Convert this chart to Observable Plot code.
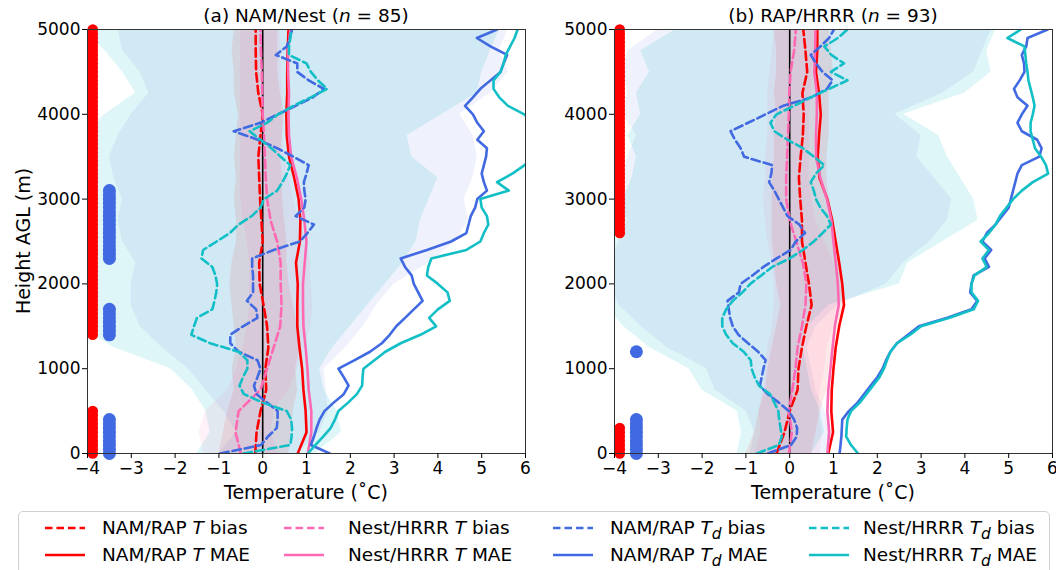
<!DOCTYPE html>
<html>
<head>
<meta charset="utf-8">
<script src="https://cdn.jsdelivr.net/npm/d3@7"></script>
<script src="https://cdn.jsdelivr.net/npm/@observablehq/plot@0.6"></script>
<style>
html,body{margin:0;padding:0;background:#fff;}
#wrap{position:relative;width:1056px;height:570px;overflow:hidden;font-family:"DejaVu Sans",sans-serif;color:#000;}
.panel{position:absolute;top:0;width:528px;height:505px;}
.title{position:absolute;top:5px;font-size:18.5px;line-height:22px;white-space:nowrap;transform:translateX(-50%);}
.xlab{position:absolute;top:481px;font-size:19px;line-height:22px;white-space:nowrap;transform:translateX(-50%);}
.ylab{position:absolute;left:23px;top:241px;font-size:19px;line-height:22px;white-space:nowrap;transform:translate(-50%,-50%) rotate(-90deg);}
#legend{position:absolute;left:18px;top:511px;width:1032px;height:70px;border:1px solid #d0d0d0;border-radius:5px;box-sizing:border-box;background:#fff;}
.li{position:absolute;font-size:18.5px;white-space:nowrap;line-height:20px;}
.ls{position:absolute;}
</style>
</head>
<body>
<div id="wrap">
  <div id="pa" class="panel" style="left:0"></div>
  <div id="pb" class="panel" style="left:528px"></div>
  <div class="title" style="left:306px">(a) NAM/Nest (<i>n</i> = 85)</div>
  <div class="title" style="left:833px">(b) RAP/HRRR (<i>n</i> = 93)</div>
  <div class="xlab" id="xla" style="left:306px"></div>
  <div class="xlab" id="xlb" style="left:833px"></div>
  <div class="ylab" id="yla"></div>
  <div id="legend"></div>
</div>
<script>
// ---------- axes / ticks ----------
const xTicks = [-4,-3,-2,-1,0,1,2,3,4,5,6];
const yTicks = [0,1000,2000,3000,4000,5000];
const xLabel = "Temperature (˚C)";
const yLabel = "Height AGL (m)";

// ---------- heights ----------
const H250 = [0,250,500,750,1000,1250,1500,1750,2000,2250,2500,2750,3000,3250,3500,3750,4000,4250,4500,4750,5000];
const H100 = [0,100,200,300,400,500,600,700,800,900,
  1000,1100,1200,1300,1400,1500,1600,1700,1800,1900,
  2000,2100,2200,2300,2400,2500,2600,2700,2800,2900,
  3000,3100,3200,3300,3400,3500,3600,3700,3800,3900,
  4000,4100,4200,4300,4400,4500,4600,4700,4800,4900,5000];

// ---------- panel (a) NAM/Nest : temperature (250 m levels) ----------
const aNamTBias  = [-0.17,-0.14,-0.05,0.08,0.06,0.13,0.10,0.02,-0.07,-0.08,0.00,-0.03,-0.06,-0.08,-0.10,-0.05,0.00,-0.10,-0.15,-0.16,-0.16];
const aNestTBias = [-0.50,-0.62,-0.55,-0.05,0.10,0.25,0.40,0.43,0.41,0.41,0.33,0.18,0.10,0.07,0.05,0.03,0.00,-0.01,-0.02,-0.04,-0.05];
const aNamTMAE   = [0.80,1.00,0.98,0.93,0.90,0.84,0.79,0.79,0.80,0.76,0.85,0.86,0.82,0.72,0.60,0.55,0.54,0.56,0.56,0.57,0.59];
const aNestTMAE  = [1.03,1.11,1.11,1.05,1.02,0.98,0.93,0.92,0.92,0.96,1.00,0.95,0.88,0.78,0.65,0.60,0.59,0.60,0.58,0.58,0.63];
// bias +/- spread (250 m levels)
const aNamTLo  = [-1.00,-0.90,-0.80,-0.65,-0.70,-0.60,-0.65,-0.70,-0.75,-0.70,-0.60,-0.60,-0.65,-0.60,-0.65,-0.60,-0.55,-0.65,-0.65,-0.70,-0.65];
const aNamTHi  = [0.60,0.65,0.70,0.80,0.75,0.85,0.80,0.70,0.60,0.55,0.55,0.50,0.45,0.45,0.40,0.45,0.50,0.40,0.35,0.35,0.35];
const aNestTLo = [-1.35,-1.45,-1.30,-0.80,-0.60,-0.45,-0.35,-0.30,-0.30,-0.30,-0.35,-0.45,-0.50,-0.50,-0.50,-0.50,-0.50,-0.50,-0.50,-0.50,-0.50];
const aNestTHi = [0.35,0.20,0.25,0.60,0.80,0.95,1.10,1.15,1.10,1.10,1.00,0.85,0.70,0.60,0.50,0.45,0.45,0.45,0.42,0.42,0.40];
const aNamTdLo  = [-1.00,-0.60,-0.90,-1.30,-1.70,-2.30,-2.80,-3.00,-3.00,-2.90,-3.20,-3.30,-3.20,-3.40,-3.50,-3.30,-3.00,-2.60,-2.80,-3.20,-3.30];
const aNamTdHi  = [0.80,1.30,1.50,1.45,1.40,1.90,2.30,2.60,3.00,3.80,4.40,4.70,4.60,4.80,4.90,4.80,4.50,5.20,5.60,5.40,5.60];
const aNestTdLo = [-1.50,-1.20,-1.30,-1.60,-2.10,-3.40,-4.20,-4.20,-4.00,-4.10,-4.20,-4.00,-4.10,-4.00,-4.20,-4.10,-3.60,-2.90,-3.20,-3.60,-4.10];
const aNestTdHi = [1.20,1.80,1.70,1.40,1.30,1.60,2.00,2.40,2.80,3.20,3.50,3.60,3.80,4.00,3.40,3.30,4.10,4.90,5.00,5.20,5.40];
// dew point (100 m levels)
const aNamTdBias = [-0.97,-0.04,0.12,0.32,0.34,0.34,0.10,-0.14,-0.20,-0.12,
  -0.05,-0.12,-0.55,-0.74,-0.74,-0.45,-0.12,-0.15,-0.36,-0.22,
  -0.22,-0.22,-0.24,-0.24,0.25,0.85,1.02,1.17,0.75,0.95,
  0.98,0.95,0.94,1.00,1.05,0.70,0.33,-0.11,-0.66,-0.05,
  0.35,0.75,1.15,1.40,1.05,0.79,0.79,0.30,0.55,0.62,0.67];
const aNestTdBias = [-0.44,0.63,0.66,0.67,0.65,0.55,0.00,-0.43,-0.53,-0.45,
  -0.35,-0.35,-0.55,-1.20,-1.63,-1.57,-1.50,-1.15,-1.10,-1.06,
  -1.04,-1.08,-1.15,-1.40,-1.36,-1.05,-0.75,-0.55,-0.25,-0.05,
  0.03,0.33,0.45,0.55,0.63,0.41,0.20,-0.05,-0.30,0.10,
  0.35,0.70,1.10,1.47,1.26,1.10,1.00,0.60,0.60,0.63,0.65];
const aNamTdMAE = [1.53,1.10,1.17,1.23,1.30,1.41,1.62,1.85,1.96,1.85,
  1.73,2.10,2.45,2.72,2.90,3.05,3.25,3.45,3.65,3.55,
  3.45,3.40,3.25,3.15,3.75,4.30,4.65,4.70,4.75,4.85,
  4.90,5.12,5.05,5.00,5.05,5.10,5.12,4.90,5.05,4.90,
  4.80,4.62,4.80,4.97,5.20,5.43,5.50,5.58,5.20,4.89,5.35];
const aNestTdMAE = [1.03,1.20,1.38,1.55,1.65,1.73,1.95,2.15,2.27,2.28,
  2.30,2.55,2.80,3.15,3.60,3.96,3.80,4.00,4.27,4.22,
  4.00,3.75,3.78,3.85,4.65,4.97,5.05,5.15,5.12,5.00,
  4.97,5.62,5.35,5.70,5.98,6.20,6.40,6.50,6.40,6.20,
  5.97,5.60,5.40,5.27,5.27,5.43,5.50,5.55,5.65,5.75,5.82];
// significant levels [from, to] (m), every 50 m
const aSigT  = [[0,500],[1400,5000]];
const aSigTd = [[0,400],[1400,1700],[2300,3100]];

// ---------- panel (b) RAP/HRRR ----------
const bNamTBias  = [-0.30,-0.12,0.00,0.18,0.20,0.28,0.38,0.50,0.44,0.36,0.28,0.28,0.24,0.21,0.25,0.30,0.32,0.29,0.40,0.36,0.31];
const bNestTBias = [-0.02,0.05,-0.02,0.06,0.13,0.18,0.28,0.36,0.38,0.30,0.15,0.00,-0.08,-0.08,-0.06,-0.04,-0.02,-0.01,0.02,0.10,0.14];
const bNamTMAE   = [0.88,0.99,0.95,0.96,1.00,1.05,1.13,1.24,1.20,1.13,1.05,0.97,0.86,0.68,0.64,0.67,0.71,0.67,0.60,0.63,0.63];
const bNestTMAE  = [0.86,0.90,0.86,0.88,0.93,0.98,1.03,1.12,1.10,1.05,1.00,0.95,0.85,0.70,0.60,0.60,0.62,0.62,0.56,0.58,0.59];
const bNamTLo  = [-1.00,-0.80,-0.70,-0.55,-0.50,-0.40,-0.30,-0.20,-0.30,-0.35,-0.40,-0.40,-0.40,-0.40,-0.35,-0.35,-0.30,-0.35,-0.30,-0.30,-0.35];
const bNamTHi  = [0.50,0.60,0.70,0.85,0.90,1.00,1.10,1.25,1.20,1.10,1.00,0.95,0.90,0.85,0.85,0.90,0.90,0.90,1.00,0.95,0.90];
const bNestTLo = [-0.80,-0.65,-0.70,-0.60,-0.55,-0.50,-0.40,-0.35,-0.35,-0.40,-0.50,-0.55,-0.60,-0.55,-0.55,-0.50,-0.50,-0.50,-0.45,-0.40,-0.35];
const bNestTHi = [0.70,0.75,0.65,0.70,0.80,0.85,1.00,1.10,1.10,1.00,0.80,0.60,0.50,0.45,0.45,0.45,0.45,0.50,0.50,0.60,0.60];
const bNamTdLo  = [-0.90,-0.80,-1.00,-1.70,-1.90,-2.80,-3.40,-3.90,-4.10,-4.10,-3.90,-3.70,-3.90,-3.80,-3.70,-3.50,-3.80,-3.70,-3.80,-3.70,-3.00];
const bNamTdHi  = [0.90,1.00,0.80,0.60,0.50,0.40,0.60,1.10,2.20,2.60,3.20,3.60,3.70,3.30,2.90,3.00,2.40,3.50,4.20,4.40,4.60];
const bNestTdLo = [-1.20,-1.10,-1.20,-2.00,-2.30,-3.20,-3.80,-4.20,-4.20,-4.20,-4.10,-3.90,-3.80,-3.60,-3.50,-3.70,-3.40,-3.50,-3.20,-3.40,-2.60];
const bNestTdHi = [0.50,0.80,0.70,0.50,0.40,0.30,0.40,0.90,2.50,2.70,3.50,4.30,4.20,3.90,3.60,3.40,2.60,4.00,4.60,4.50,4.70];
const bNamTdBias = [-0.50,0.03,0.16,0.17,0.10,-0.02,-0.25,-0.50,-0.68,-0.64,
  -0.60,-0.55,-0.72,-0.95,-1.17,-1.30,-1.36,-1.39,-1.42,-1.16,
  -1.12,-0.85,-0.60,-0.30,0.02,0.14,0.35,0.22,-0.05,-0.15,
  -0.25,-0.35,-0.47,-0.42,-0.40,-1.04,-1.12,-1.25,-1.35,-0.95,
  -0.55,-0.15,0.50,0.85,0.98,0.75,0.60,0.48,0.70,0.90,1.01];
const bNestTdBias = [-0.75,-0.25,-0.18,-0.21,-0.24,-0.26,-0.35,-0.45,-0.70,-0.80,
  -0.87,-0.89,-1.05,-1.30,-1.45,-1.54,-1.54,-1.45,-1.30,-1.08,
  -0.90,-0.65,-0.40,0.00,0.30,0.55,0.75,0.94,0.85,0.70,
  0.60,0.55,0.48,0.60,0.79,0.55,0.30,-0.05,-0.35,-0.44,
  -0.30,0.10,0.48,0.90,1.32,0.94,1.24,0.95,0.79,1.10,1.32];
const bNamTdMAE = [1.14,1.16,1.18,1.19,1.20,1.35,1.55,1.70,1.85,2.00,
  2.12,2.20,2.30,2.45,2.70,2.95,3.60,4.15,4.28,4.12,
  4.15,4.20,4.55,4.45,4.60,4.40,4.50,4.70,4.85,5.00,
  5.05,5.10,5.15,5.20,5.30,5.70,5.75,5.65,5.30,5.20,
  5.30,5.43,5.20,5.12,5.25,5.36,5.35,5.30,5.40,5.43,5.89];
const bNestTdMAE = [1.56,1.40,1.29,1.30,1.32,1.40,1.60,1.75,1.90,2.05,
  2.15,2.22,2.30,2.45,2.75,3.00,3.65,4.20,4.30,4.15,
  4.15,4.22,4.50,4.40,4.55,4.36,4.55,4.70,4.80,4.95,
  5.10,5.30,5.55,5.90,5.85,5.74,5.60,5.55,5.50,5.50,
  5.55,5.59,5.55,5.50,5.45,5.43,5.40,5.38,5.36,4.97,5.28];
const bSigT  = [[0,300],[2600,5000]];
const bSigTd = [[0,400],[1200,1200]];

// significance marker columns (°C)
const sigColumn = {T: -3.88, Td: -3.5};

// ---------- colours ----------
const RED = "#ff0000", PINK = "#ff69b4", BLUE = "#4169e1", CYAN = "#12bfc6";

const legendItems = [
  {html: "NAM/RAP <i>T</i> bias", color: RED, dash: true, col: 0, row: 0},
  {html: "NAM/RAP <i>T</i> MAE", color: RED, dash: false, col: 0, row: 1},
  {html: "Nest/HRRR <i>T</i> bias", color: PINK, dash: true, col: 1, row: 0},
  {html: "Nest/HRRR <i>T</i> MAE", color: PINK, dash: false, col: 1, row: 1},
  {html: "NAM/RAP <i>T<sub>d</sub></i> bias", color: BLUE, dash: true, col: 2, row: 0},
  {html: "NAM/RAP <i>T<sub>d</sub></i> MAE", color: BLUE, dash: false, col: 2, row: 1},
  {html: "Nest/HRRR <i>T<sub>d</sub></i> bias", color: CYAN, dash: true, col: 3, row: 0},
  {html: "Nest/HRRR <i>T<sub>d</sub></i> MAE", color: CYAN, dash: false, col: 3, row: 1}
];

const DASH = "8.5,4";
const LW = 2.6;

function rows(hs, vals) { return hs.map((h, i) => ({h, v: vals[i]})); }
function band(hs, lo, hi) { return hs.map((h, i) => ({h, lo: lo[i], hi: hi[i]})); }
function sigLevels(intervals) {
  const out = [];
  for (const [a, b] of intervals) for (let h = a; h <= b; h += 50) out.push(h);
  return out;
}

function panel(d, ml, mr) {
  const marks = [
    Plot.areaX(band(H250, d.nestTdLo, d.nestTdHi), {y: "h", x1: "lo", x2: "hi", fill: CYAN, fillOpacity: 0.14, clip: true}),
    Plot.areaX(band(H250, d.namTdLo, d.namTdHi), {y: "h", x1: "lo", x2: "hi", fill: BLUE, fillOpacity: 0.085, clip: true}),
    Plot.areaX(band(H250, d.namTLo, d.namTHi), {y: "h", x1: "lo", x2: "hi", fill: RED, fillOpacity: 0.09, clip: true}),
    Plot.areaX(band(H250, d.nestTLo, d.nestTHi), {y: "h", x1: "lo", x2: "hi", fill: PINK, fillOpacity: 0.09, clip: true}),
    Plot.ruleX([0], {stroke: "black", strokeWidth: 1.6}),
    Plot.line(rows(H250, d.namTBias), {x: "v", y: "h", stroke: RED, strokeWidth: LW, strokeDasharray: DASH, clip: true}),
    Plot.line(rows(H250, d.namTMAE), {x: "v", y: "h", stroke: RED, strokeWidth: LW, clip: true}),
    Plot.line(rows(H250, d.nestTBias), {x: "v", y: "h", stroke: PINK, strokeWidth: LW, strokeDasharray: DASH, clip: true}),
    Plot.line(rows(H250, d.nestTMAE), {x: "v", y: "h", stroke: PINK, strokeWidth: LW, clip: true}),
    Plot.line(rows(H100, d.namTdBias), {x: "v", y: "h", stroke: BLUE, strokeWidth: LW, strokeDasharray: DASH, clip: true}),
    Plot.line(rows(H100, d.namTdMAE), {x: "v", y: "h", stroke: BLUE, strokeWidth: LW, clip: true}),
    Plot.line(rows(H100, d.nestTdBias), {x: "v", y: "h", stroke: CYAN, strokeWidth: LW, strokeDasharray: DASH, clip: true}),
    Plot.line(rows(H100, d.nestTdMAE), {x: "v", y: "h", stroke: CYAN, strokeWidth: LW, clip: true}),
    Plot.dot(sigLevels(d.sigT), {x: () => sigColumn.T, y: h => h, r: 5.3, fill: RED}),
    Plot.dot(sigLevels(d.sigTd), {x: () => sigColumn.Td, y: h => h, r: 6.5, fill: BLUE}),
    Plot.frame({stroke: "#333", strokeWidth: 1}),
    Plot.axisX({ticks: xTicks, tickSize: 5, tickPadding: 3, tickFormat: d3.format("d"), label: null}),
    Plot.axisY({ticks: yTicks, tickSize: 5, tickPadding: 2, tickFormat: d3.format("d"), label: null})
  ];
  return Plot.plot({
    width: 528, height: 505,
    marginLeft: ml, marginRight: mr, marginTop: 29, marginBottom: 52,
    x: {domain: [-4, 6]},
    y: {domain: [0, 5000]},
    style: {fontFamily: "DejaVu Sans", fontSize: "17px", color: "#000", background: "transparent", overflow: "visible"},
    marks
  });
}

const dataA = {namTBias: aNamTBias, nestTBias: aNestTBias, namTMAE: aNamTMAE, nestTMAE: aNestTMAE,
  namTLo: aNamTLo, namTHi: aNamTHi, nestTLo: aNestTLo, nestTHi: aNestTHi,
  namTdLo: aNamTdLo, namTdHi: aNamTdHi, nestTdLo: aNestTdLo, nestTdHi: aNestTdHi,
  namTdBias: aNamTdBias, nestTdBias: aNestTdBias, namTdMAE: aNamTdMAE, nestTdMAE: aNestTdMAE,
  sigT: aSigT, sigTd: aSigTd};
const dataB = {namTBias: bNamTBias, nestTBias: bNestTBias, namTMAE: bNamTMAE, nestTMAE: bNestTMAE,
  namTLo: bNamTLo, namTHi: bNamTHi, nestTLo: bNestTLo, nestTHi: bNestTHi,
  namTdLo: bNamTdLo, namTdHi: bNamTdHi, nestTdLo: bNestTdLo, nestTdHi: bNestTdHi,
  namTdBias: bNamTdBias, nestTdBias: bNestTdBias, namTdMAE: bNamTdMAE, nestTdMAE: bNestTdMAE,
  sigT: bSigT, sigTd: bSigTd};

document.getElementById("pa").append(panel(dataA, 87, 3));
document.getElementById("pb").append(panel(dataB, 86, 4));
document.getElementById("xla").textContent = xLabel;
document.getElementById("xlb").textContent = xLabel;
document.getElementById("yla").textContent = yLabel;

// ---------- legend ----------
const legend = document.getElementById("legend");
const sampleX = [26, 265, 534, 790];
const textX = [83, 329, 591, 844];
const rowY = [16, 43];
for (const it of legendItems) {
  const s = document.createElementNS("http://www.w3.org/2000/svg", "svg");
  s.setAttribute("width", 40); s.setAttribute("height", 8);
  s.setAttribute("class", "ls");
  s.style.left = sampleX[it.col] + "px";
  s.style.top = (rowY[it.row] - 4) + "px";
  const ln = document.createElementNS("http://www.w3.org/2000/svg", "line");
  ln.setAttribute("x1", 0); ln.setAttribute("x2", 40); ln.setAttribute("y1", 4); ln.setAttribute("y2", 4);
  ln.setAttribute("stroke", it.color); ln.setAttribute("stroke-width", 2.6);
  if (it.dash) ln.setAttribute("stroke-dasharray", "7.5,4");
  s.append(ln);
  legend.append(s);
  const t = document.createElement("div");
  t.className = "li";
  t.innerHTML = it.html;
  t.style.left = textX[it.col] + "px";
  t.style.top = (rowY[it.row] - 10) + "px";
  legend.append(t);
}
</script>
</body>
</html>
